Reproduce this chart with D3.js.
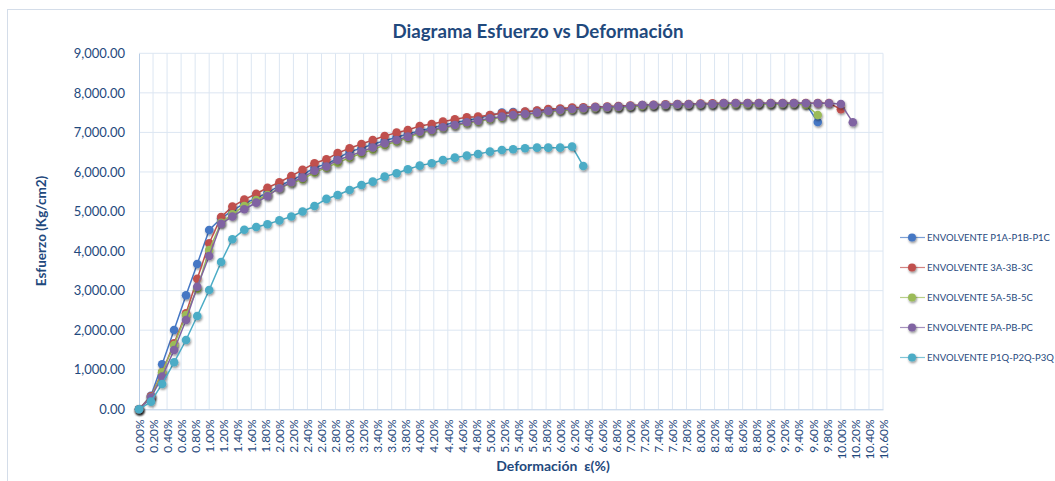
<!DOCTYPE html>
<html>
<head>
<meta charset="utf-8">
<script src="https://cdn.jsdelivr.net/npm/d3@7"></script>
<style>
  body { margin: 0; background: #fff; }
  text { font-family: Lato, "Open Sans", sans-serif; }
</style>
</head>
<body>
<script>
const width = 1055;
const height = 481;

// deformacion (%) de cada lectura
const deformation = [
  0.00, 0.17, 0.33, 0.50, 0.67, 0.83, 1.00, 1.17, 1.33, 1.50, 1.67, 1.83,
  2.00, 2.17, 2.33, 2.50, 2.67, 2.83, 3.00, 3.17, 3.33, 3.50, 3.67, 3.83,
  4.00, 4.17, 4.33, 4.50, 4.67, 4.83, 5.00, 5.17, 5.33, 5.50, 5.67, 5.83,
  6.00, 6.17, 6.33, 6.50, 6.67, 6.83, 7.00, 7.17, 7.33, 7.50, 7.67, 7.83,
  8.00, 8.17, 8.33, 8.50, 8.67, 8.83, 9.00, 9.17, 9.33, 9.50, 9.67, 9.83,
  10.00, 10.17
];

const seriesNames = [
  "ENVOLVENTE P1A-P1B-P1C",
  "ENVOLVENTE 3A-3B-3C",
  "ENVOLVENTE 5A-5B-5C",
  "ENVOLVENTE PA-PB-PC",
  "ENVOLVENTE P1Q-P2Q-P3Q"
];

const stressP1A = [
  0, 340, 1138, 2005, 2882, 3674, 4534, 4829, 5022, 5208, 5335, 5477,
  5646, 5790, 5924, 6109, 6200, 6340, 6514, 6600, 6700, 6790, 6880, 6960,
  7040, 7110, 7180, 7250, 7300, 7360, 7430, 7500, 7512, 7522, 7545, 7568,
  7585, 7605, 7615, 7625, 7632, 7645, 7660, 7680, 7685, 7690, 7700, 7700,
  7710, 7715, 7720, 7720, 7725, 7725, 7725, 7725, 7730, 7730, 7264
];

const stress3A = [
  0, 330, 943, 1669, 2427, 3302, 4197, 4860, 5124, 5300, 5450, 5600,
  5740, 5899, 6055, 6220, 6321, 6478, 6599, 6708, 6809, 6910, 6994, 7062,
  7163, 7213, 7272, 7332, 7383, 7399, 7441, 7484, 7494, 7525, 7550, 7590,
  7605, 7630, 7635, 7650, 7655, 7669, 7680, 7694, 7700, 7711, 7720, 7720,
  7730, 7737, 7740, 7740, 7740, 7740, 7740, 7740, 7740, 7740, 7740, 7740,
  7585
];

const stress5A = [
  0, 300, 935, 1626, 2384, 3050, 4028, 4718, 4930, 5140, 5292, 5418,
  5588, 5720, 5815, 5990, 6110, 6236, 6360, 6470, 6570, 6680, 6770, 6860,
  6990, 7040, 7110, 7170, 7235, 7280, 7335, 7380, 7420, 7450, 7485, 7525,
  7550, 7575, 7595, 7615, 7625, 7637, 7655, 7670, 7680, 7690, 7700, 7700,
  7705, 7710, 7715, 7715, 7715, 7720, 7720, 7720, 7720, 7700, 7441
];

const stressPA = [
  0, 300, 825, 1499, 2258, 3100, 3876, 4690, 4875, 5057, 5224, 5393,
  5590, 5740, 5857, 6033, 6140, 6303, 6405, 6514, 6620, 6725, 6809, 6893,
  7020, 7062, 7130, 7188, 7256, 7298, 7357, 7399, 7441, 7466, 7500, 7542,
  7568, 7593, 7610, 7635, 7640, 7652, 7669, 7694, 7694, 7700, 7711, 7711,
  7720, 7720, 7737, 7737, 7737, 7737, 7737, 7737, 7737, 7737, 7737, 7737,
  7720, 7256
];

const stressP1Q = [
  0, 193, 640, 1188, 1752, 2359, 3016, 3724, 4298, 4540, 4610, 4677,
  4776, 4875, 5000, 5140, 5320, 5418, 5545, 5671, 5755, 5882, 5967, 6068,
  6160, 6220, 6303, 6362, 6413, 6455, 6514, 6556, 6573, 6599, 6615, 6615,
  6615, 6640, 6152
];

const seriesColors = ["#4577c4", "#c0504d", "#9bbb59", "#8064a2", "#4bacc6"];

const xTicks = [
  0.0, 0.2, 0.4, 0.6, 0.8, 1.0, 1.2, 1.4, 1.6, 1.8, 2.0, 2.2, 2.4, 2.6,
  2.8, 3.0, 3.2, 3.4, 3.6, 3.8, 4.0, 4.2, 4.4, 4.6, 4.8, 5.0, 5.2, 5.4,
  5.6, 5.8, 6.0, 6.2, 6.4, 6.6, 6.8, 7.0, 7.2, 7.4, 7.6, 7.8, 8.0, 8.2,
  8.4, 8.6, 8.8, 9.0, 9.2, 9.4, 9.6, 9.8, 10.0, 10.2, 10.4, 10.6
];
const yTicks = [0, 1000, 2000, 3000, 4000, 5000, 6000, 7000, 8000, 9000];

const allStress = [stressP1A, stress3A, stress5A, stressPA, stressP1Q];
const series = seriesNames.map(function (name, k) {
  return {
    name: name,
    color: seriesColors[k],
    points: allStress[k].map(function (v, i) { return { x: deformation[i], y: v }; })
  };
});

const TEXT_COLOR = "#1f497d";
const GRID_COLOR = "#dce6f2";
const AXIS_COLOR = "#b9cde5";

const plot = { left: 139, right: 883, top: 53.3, bottom: 409.3 };

const x = d3.scaleLinear().domain([0, 10.6]).range([plot.left, plot.right]);
const y = d3.scaleLinear().domain([0, 9000]).range([plot.bottom, plot.top]);

const svg = d3.select("body")
  .append("svg")
  .attr("width", width)
  .attr("height", height);

const defs = svg.append("defs");
const shadow = defs.append("filter")
  .attr("id", "shadow")
  .attr("x", "-50%").attr("y", "-50%")
  .attr("width", "200%").attr("height", "200%");
shadow.append("feDropShadow")
  .attr("dx", 0.8).attr("dy", 1.5)
  .attr("stdDeviation", 1)
  .attr("flood-color", "#000")
  .attr("flood-opacity", 0.45);

// chart area border
svg.append("rect")
  .attr("x", 7.5).attr("y", 9.5)
  .attr("width", width + 20).attr("height", height + 20)
  .attr("fill", "none")
  .attr("stroke", "#d4dde9");

// title
svg.append("text")
  .attr("x", 538).attr("y", 38)
  .attr("text-anchor", "middle")
  .attr("font-size", "18.7px")
  .attr("font-weight", "bold")
  .attr("fill", TEXT_COLOR)
  .text("Diagrama Esfuerzo vs Deformación");

// gridlines
svg.append("g")
  .selectAll("line.h")
  .data(yTicks.slice(1))
  .enter().append("line")
  .attr("x1", plot.left).attr("x2", plot.right)
  .attr("y1", function (d) { return y(d); })
  .attr("y2", function (d) { return y(d); })
  .attr("stroke", GRID_COLOR);

svg.append("g")
  .selectAll("line.v")
  .data(xTicks.slice(1))
  .enter().append("line")
  .attr("x1", function (d) { return x(d); })
  .attr("x2", function (d) { return x(d); })
  .attr("y1", plot.top).attr("y2", plot.bottom)
  .attr("stroke", GRID_COLOR);

// axes
const yAxis = svg.append("g")
  .attr("transform", "translate(" + plot.left + ",0)")
  .call(d3.axisLeft(y).tickValues(yTicks).tickFormat(d3.format(",.2f")).tickSize(0).tickPadding(14));
yAxis.select(".domain").attr("stroke", AXIS_COLOR);
yAxis.selectAll("text")
  .attr("font-family", "Lato, sans-serif")
  .attr("font-size", "13px")
  .attr("fill", TEXT_COLOR);

const xAxis = svg.append("g")
  .attr("transform", "translate(0," + plot.bottom + ")")
  .call(d3.axisBottom(x).tickValues(xTicks)
    .tickFormat(function (d) { return d3.format(".2f")(d) + "%"; })
    .tickSize(0));
xAxis.select(".domain").attr("stroke", AXIS_COLOR);
xAxis.selectAll("text")
  .attr("font-family", "Lato, sans-serif")
  .attr("font-size", "12px")
  .attr("fill", TEXT_COLOR)
  .attr("text-anchor", "end")
  .attr("dy", "0.35em")
  .attr("transform", "translate(0,10) rotate(-90)")
  .attr("x", 0).attr("y", 0);

// axis titles
svg.append("text")
  .attr("transform", "translate(46,231) rotate(-90)")
  .attr("text-anchor", "middle")
  .attr("font-size", "13.5px")
  .attr("font-weight", "bold")
  .attr("fill", TEXT_COLOR)
  .text("Esfuerzo (Kg/cm2)");

svg.append("text")
  .attr("x", 553).attr("y", 471)
  .attr("text-anchor", "middle")
  .attr("font-size", "14px")
  .attr("font-weight", "bold")
  .attr("fill", TEXT_COLOR)
  .attr("xml:space", "preserve")
  .text("Deformación  ε(%)");

// series
const lineGen = d3.line()
  .x(function (d) { return x(d.x); })
  .y(function (d) { return y(d.y); });

series.forEach(function (s) {
  const g = svg.append("g");
  g.append("path")
    .attr("d", lineGen(s.points))
    .attr("fill", "none")
    .attr("stroke", s.color)
    .attr("stroke-width", 1.5);
  g.selectAll("circle")
    .data(s.points)
    .enter().append("circle")
    .attr("cx", function (d) { return x(d.x); })
    .attr("cy", function (d) { return y(d.y); })
    .attr("r", 4.3)
    .attr("fill", s.color)
    .attr("filter", "url(#shadow)");
});

// legend
const legend = svg.append("g")
  .selectAll("g")
  .data(series)
  .enter().append("g")
  .attr("transform", function (d, i) { return "translate(900," + (237.5 + i * 30) + ")"; });

legend.append("line")
  .attr("x1", 0).attr("x2", 25)
  .attr("stroke", function (d) { return d.color; })
  .attr("stroke-opacity", 0.7)
  .attr("stroke-width", 1.2);
legend.append("circle")
  .attr("cx", 12).attr("cy", 0).attr("r", 4)
  .attr("fill", function (d) { return d.color; })
  .attr("filter", "url(#shadow)");
legend.append("text")
  .attr("x", 27).attr("y", 0)
  .attr("dy", "0.35em")
  .attr("font-size", "9.5px")
  .attr("fill", TEXT_COLOR)
  .text(function (d) { return d.name; });
</script>
</body>
</html>
